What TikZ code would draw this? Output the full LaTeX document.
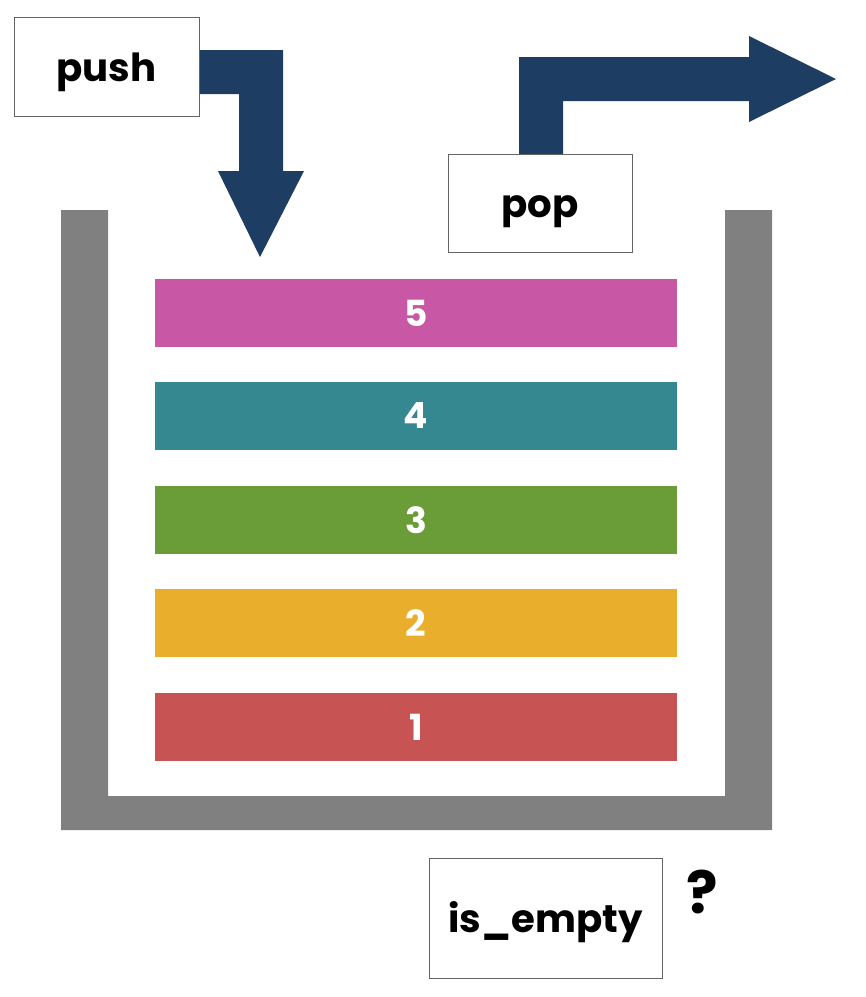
\documentclass[tikz,border=0pt]{standalone}
\usepackage{fontspec}
\setmainfont{Poppins}
\definecolor{arrowblue}{RGB}{29,61,99}
\definecolor{wallgray}{RGB}{128,128,128}
\definecolor{boxline}{RGB}{100,100,100}
\definecolor{barfive}{RGB}{200,87,165}
\definecolor{barfour}{RGB}{53,135,144}
\definecolor{barthree}{RGB}{106,156,55}
\definecolor{bartwo}{RGB}{234,174,45}
\definecolor{barone}{RGB}{199,83,83}
\tikzset{
  opbox/.style={draw=boxline, line width=0.75, fill=white, inner sep=0pt,
    text height=21.75pt, text depth=0pt,
    font=\fontsize{29}{34}\selectfont\bfseries},
  stackbar/.style={inner sep=0pt, minimum width=391.5pt, minimum height=51pt,
    text=white, font=\fontsize{27}{32}\selectfont\bfseries}
}
\begin{document}
\begin{tikzpicture}[x=0.75pt,y=0.75pt,yscale=-1,xscale=1]
\useasboundingbox (0,0) rectangle (866,997);
%Shape: Container
\fill [wallgray] (61,210) -- (108,210) -- (108,796) -- (725,796) -- (725,210) -- (772,210) -- (772,830) -- (61,830) -- cycle ;
%Shape: Push arrow
\fill [arrowblue] (198,50) -- (283,50) -- (283,171) -- (304,171) -- (260,257) -- (218,171) -- (239,171) -- (239,94) -- (198,94) -- cycle ;
%Shape: Pop arrow
\fill [arrowblue] (519,155) -- (519,57) -- (749,57) -- (749,36) -- (836,79) -- (749,122) -- (749,101) -- (563,101) -- (563,155) -- cycle ;

% Text Node
\node (push) [opbox, minimum width=138.75pt, minimum height=74.25pt] at (106.5,66.5) {push};
% Text Node
\node (pop) [opbox, minimum width=138pt, minimum height=73.5pt] at (540,203) {pop};
% Text Node
\node (isempty) [opbox, minimum width=174.75pt, minimum height=90pt] at (545.5,918) {is\_empty};
% Text Node
\node (ask) [inner sep=0pt, font=\fontsize{44}{50}\selectfont\bfseries] at (702,892) {?};

% Stack items
\node (five) [stackbar, fill=barfive] at (416,313) {5};
\node (four) [stackbar, fill=barfour] at (416,416) {4};
\node (three) [stackbar, fill=barthree] at (416,520) {3};
\node (two) [stackbar, fill=bartwo] at (416,623) {2};
\node (one) [stackbar, fill=barone] at (416,727) {1};
\end{tikzpicture}
\end{document}
